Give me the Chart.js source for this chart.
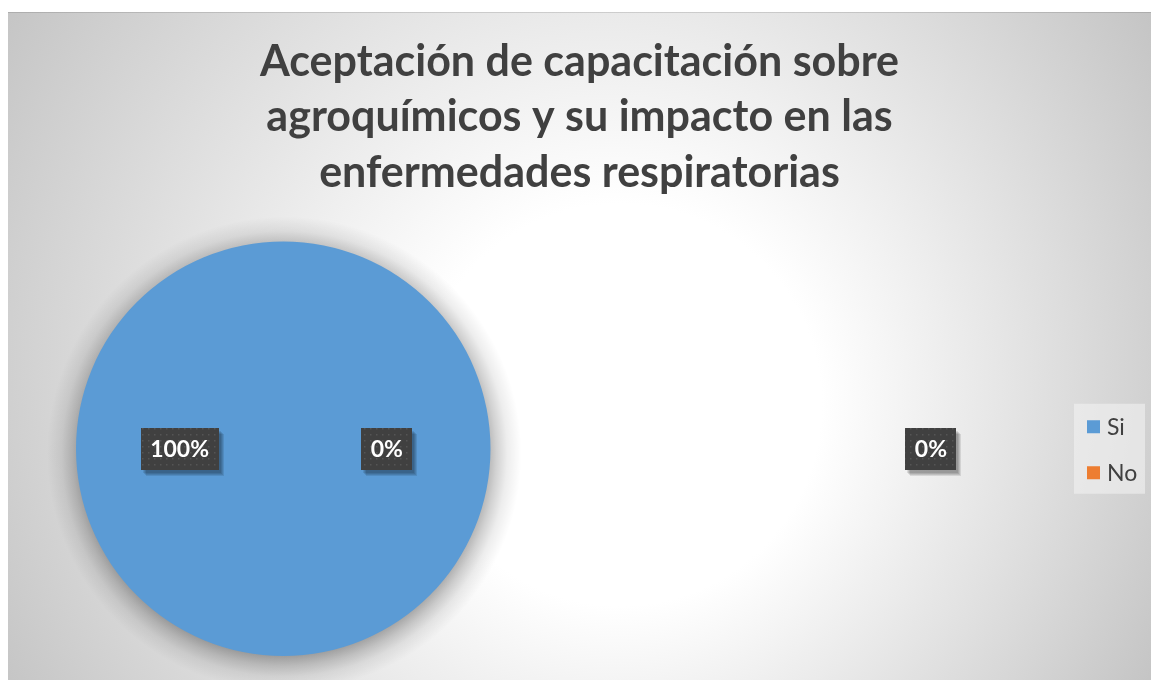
<!DOCTYPE html>
<html>
<head>
<meta charset="utf-8">
<script src="https://cdn.jsdelivr.net/npm/chart.js@4.4.1/dist/chart.umd.min.js"></script>
<style>
  html, body { margin: 0; padding: 0; background: #ffffff; }
  #wrap { position: absolute; left: 8px; top: 12px; width: 1143px; height: 668px; }
</style>
</head>
<body>
<div id="wrap"><canvas id="pieChart"></canvas></div>
<script>
// Datos del gráfico
const chartTitle = ['Aceptación de capacitación sobre', 'agroquímicos y su impacto en las', 'enfermedades respiratorias'];
const categories = ['Si', 'No'];
const seriesColors = ['#5B9BD5', '#ED7D31'];
// Gráfico "circular con subgráfico": el pastel principal muestra Si + Otro,
// el pastel secundario contiene la categoría No
const mainLabels = ['Si', 'Otro'];
const mainValues = [100, 0];
const secondaryLabels = ['No'];
const secondaryValues = [0];

const FONT = 'Lato';

// Textura punteada de las etiquetas de datos
function makeDotPattern(ctx) {
  const c = document.createElement('canvas');
  c.width = 6; c.height = 6;
  const p = c.getContext('2d');
  p.fillStyle = '#404040';
  p.fillRect(0, 0, 6, 6);
  p.fillStyle = '#555555';
  p.fillRect(2, 2, 1.5, 1.5);
  return ctx.createPattern(c, 'repeat');
}

function drawDataLabel(ctx, text, x, y) {
  ctx.save();
  ctx.font = 'bold 23px ' + FONT;
  const w = Math.round(ctx.measureText(text).width + 19);
  const h = 42;
  const left = Math.round(x - w / 2), top = Math.round(y - h / 2);
  // sombra de la etiqueta
  ctx.fillStyle = 'rgba(0,0,0,0.10)';
  for (let k = 1; k <= 4; k++) {
    ctx.fillRect(left + k + 1, top + k + 2, w, h);
  }
  ctx.fillStyle = '#404040';
  ctx.fillRect(left, top, w, h);
  ctx.fillStyle = makeDotPattern(ctx);
  ctx.fillRect(left, top, w, h);
  ctx.fillStyle = '#ffffff';
  ctx.textAlign = 'center';
  ctx.textBaseline = 'middle';
  ctx.fillText(text, x, y + 1);
  ctx.restore();
}

// Fondo con degradado radial
const backgroundPlugin = {
  id: 'fondo',
  beforeDraw(chart) {
    const ctx = chart.ctx;
    const g = ctx.createRadialGradient(632, 418, 0, 567, 334, 670);
    g.addColorStop(0, '#ffffff');
    g.addColorStop(0.3, '#ffffff');
    g.addColorStop(1, '#c4c4c4');
    ctx.save();
    ctx.fillStyle = g;
    ctx.fillRect(0, 0, chart.width, chart.height);
    ctx.fillStyle = 'rgba(0,0,0,0.12)';
    ctx.fillRect(0, 0, chart.width, 1);
    ctx.restore();
  }
};

// Coloca el pastel principal a la izquierda
const pieAreaPlugin = {
  id: 'areaPastel',
  afterLayout(chart) {
    const a = chart.chartArea;
    const size = a.bottom - a.top;
    a.left = 68;
    a.right = a.left + size;
    a.width = size;
    a.height = size;
  }
};

// Sombra exterior difusa alrededor del pastel
const shadowPlugin = {
  id: 'sombra',
  beforeDatasetsDraw(chart) {
    const ctx = chart.ctx;
    const arc = chart.getDatasetMeta(0).data[0];
    const r = arc.outerRadius;
    const sx = arc.x + 1, sy = arc.y + 5;
    const g = ctx.createRadialGradient(sx, sy, r - 6, sx, sy, r + 30);
    g.addColorStop(0, 'rgba(0,0,0,0.32)');
    g.addColorStop(0.3, 'rgba(0,0,0,0.18)');
    g.addColorStop(0.6, 'rgba(0,0,0,0.07)');
    g.addColorStop(1, 'rgba(0,0,0,0)');
    ctx.save();
    ctx.fillStyle = g;
    ctx.beginPath();
    ctx.arc(sx, sy, r + 30, 0, Math.PI * 2);
    ctx.fill();
    ctx.restore();
  }
};

// Etiquetas de porcentaje y leyenda
const labelsPlugin = {
  id: 'etiquetas',
  afterDraw(chart) {
    const ctx = chart.ctx;
    const meta = chart.getDatasetMeta(0);
    const total = mainValues.reduce((s, v) => s + v, 0);
    meta.data.forEach((arc, i) => {
      const pt = arc.getCenterPoint();
      const pct = Math.round(mainValues[i] / total * 100);
      drawDataLabel(ctx, pct + '%', pt.x, pt.y);
    });

    // pastel secundario (vacío): 75% del tamaño, separado a la derecha
    const arc0 = meta.data[0];
    const r2 = arc0.outerRadius * 0.75;
    const cx2 = arc0.x + arc0.outerRadius * 2.75;
    secondaryValues.forEach((v, i) => {
      const pct = Math.round(v / total * 100);
      drawDataLabel(ctx, pct + '%', cx2 + r2 / 2, arc0.y);
    });

    // Leyenda
    const lx = 1066, lw = 71, lh = 90;
    const cy = (chart.chartArea.top + chart.chartArea.bottom) / 2;
    const ly = cy - lh / 2;
    ctx.save();
    ctx.fillStyle = 'rgba(242,242,242,0.6)';
    ctx.fillRect(lx, ly, lw, lh);
    ctx.font = '23px ' + FONT;
    ctx.textBaseline = 'middle';
    ctx.textAlign = 'left';
    categories.forEach((c, i) => {
      const y = cy - 22 + i * 46;
      ctx.fillStyle = seriesColors[i];
      ctx.fillRect(lx + 13, y - 6.5, 13, 13);
      ctx.fillStyle = '#404040';
      ctx.fillText(c, lx + 33, y + 1);
    });
    ctx.restore();
  }
};

const ctx = document.getElementById('pieChart').getContext('2d');
window.pieChart = new Chart(ctx, {
  type: 'pie',
  data: {
    labels: mainLabels,
    datasets: [{
      data: mainValues,
      backgroundColor: seriesColors,
      borderWidth: 0,
      hoverOffset: 0,
      clip: false
    }]
  },
  options: {
    responsive: true,
    maintainAspectRatio: false,
    animation: false,
    rotation: 90,
    layout: { padding: { top: 0, bottom: 24, left: 0, right: 0 } },
    plugins: {
      legend: { display: false },
      tooltip: { enabled: false },
      title: {
        display: true,
        text: chartTitle,
        color: '#404040',
        font: { family: FONT, size: 43, weight: 'bold', lineHeight: 55.5 / 43 },
        padding: { top: 22, bottom: 41 }
      }
    }
  },
  plugins: [backgroundPlugin, pieAreaPlugin, shadowPlugin, labelsPlugin]
});
</script>
</body>
</html>
